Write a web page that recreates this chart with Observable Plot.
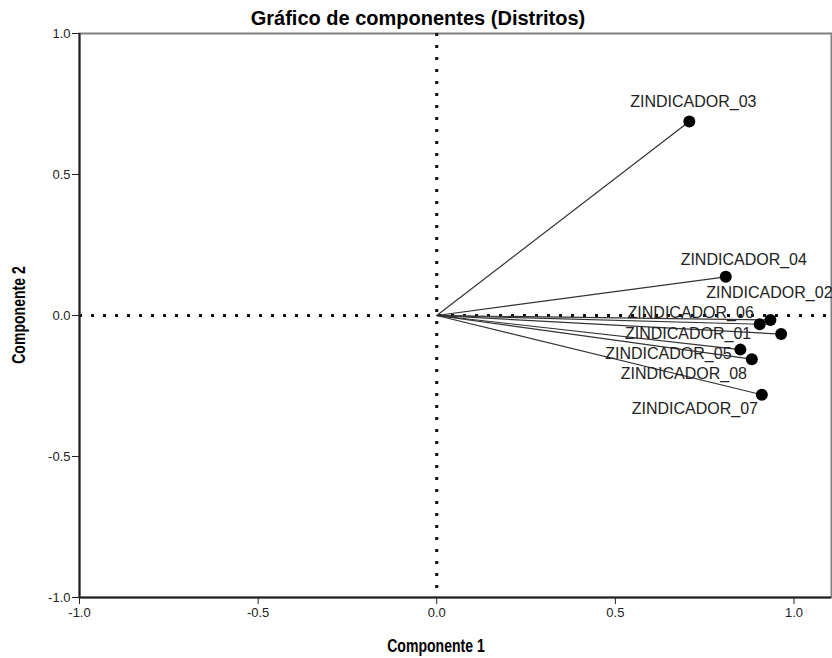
<!DOCTYPE html>
<html>
<head>
<meta charset="utf-8">
<script src="https://cdn.jsdelivr.net/npm/d3@7"></script>
<script src="https://cdn.jsdelivr.net/npm/@observablehq/plot@0.6"></script>
<style>
  html, body { margin: 0; padding: 0; background: #fff; }
  #chart svg { display: block; }
</style>
</head>
<body>
<div id="chart"></div>
<script>
// ---- Data ----
const indicators = ["ZINDICADOR_01","ZINDICADOR_02","ZINDICADOR_03","ZINDICADOR_04",
                    "ZINDICADOR_05","ZINDICADOR_06","ZINDICADOR_07","ZINDICADOR_08"];
const component1 = [0.964, 0.934, 0.707, 0.809, 0.850, 0.904, 0.910, 0.882];
const component2 = [-0.066, -0.016, 0.688, 0.137, -0.121, -0.031, -0.281, -0.155];
const tickValues = [-1.0, -0.5, 0.0, 0.5, 1.0];
const chartTitle = "Gráfico de componentes (Distritos)";
const xTitle = "Componente 1";
const yTitle = "Componente 2";

// label placement (pixel offsets of label centre from its point)
const labelOffsets = [[-93, 0], [-1, -27], [4, -20], [18, -17], [-72, 4], [-69, -11], [-67, 14], [-68, 15]];

const rows = indicators.map((name, i) => ({name, c1: component1[i], c2: component2[i], i}));

const W = 832, H = 658;
const font = "'Liberation Sans', Arial, sans-serif";

const plot = Plot.plot({
  width: W,
  height: H,
  marginLeft: 79,
  marginRight: 1,
  marginTop: 33,
  marginBottom: 61,
  style: {fontFamily: font, background: "#fff", color: "#222"},
  x: {domain: [-1, 1.105]},
  y: {domain: [-1, 1]},
  marks: [
    Plot.frame({stroke: "#808080", strokeWidth: 2}),
    Plot.ruleX([0], {stroke: "#111", strokeWidth: 3, strokeDasharray: "3,9"}),
    Plot.ruleY([0], {stroke: "#111", strokeWidth: 3, strokeDasharray: "3,9"}),
    Plot.link(rows, {x1: () => 0, y1: () => 0, x2: "c1", y2: "c2", stroke: "#333", strokeWidth: 1.2}),
    Plot.dot(rows, {x: "c1", y: "c2", r: 6, fill: "#000", stroke: "none"}),
    ...rows.map((d, i) => Plot.text([d], {
      x: "c1", y: "c2", text: "name",
      dx: labelOffsets[i][0], dy: labelOffsets[i][1],
      fontSize: 16, fill: "#222", textAnchor: "middle"
    })),
    Plot.ruleX([-1], {stroke: "#222", strokeWidth: 2}),
    Plot.ruleY([-1], {stroke: "#222", strokeWidth: 2}),
    Plot.axisX({ticks: tickValues, tickFormat: d => d.toFixed(1), tickSize: 7, tickPadding: 3,
                fontSize: 13, label: null, stroke: "#222"}),
    Plot.axisY({ticks: tickValues, tickFormat: d => d.toFixed(1), tickSize: 7, tickPadding: 2,
                fontSize: 13, label: null, stroke: "#222"})
  ]
});

const svg = d3.select(plot);
svg.append("text")
  .attr("x", 418).attr("y", 25)
  .attr("text-anchor", "middle")
  .attr("font-family", font).attr("font-weight", "bold").attr("font-size", 20)
  .attr("fill", "#000")
  .text(chartTitle);
svg.append("text")
  .attr("transform", "translate(436,652) scale(0.74,1)")
  .attr("text-anchor", "middle")
  .attr("font-family", font).attr("font-weight", "bold").attr("font-size", 19)
  .attr("fill", "#000")
  .text(xTitle);
svg.append("text")
  .attr("transform", "translate(25,315) rotate(-90) scale(0.74,1)")
  .attr("text-anchor", "middle")
  .attr("font-family", font).attr("font-weight", "bold").attr("font-size", 19)
  .attr("fill", "#000")
  .text(yTitle);

document.getElementById("chart").appendChild(plot);
</script>
</body>
</html>
